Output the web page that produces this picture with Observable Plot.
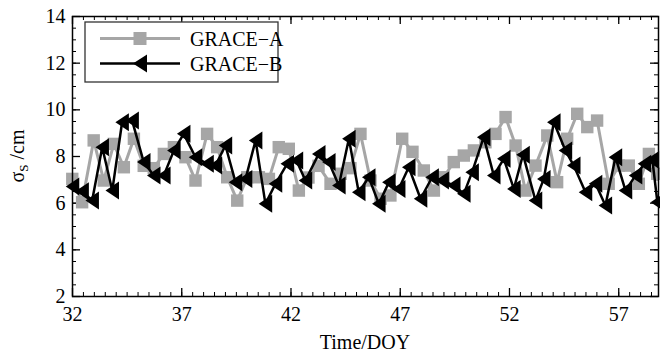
<!DOCTYPE html>
<html><head><meta charset="utf-8">
<script src="https://cdn.jsdelivr.net/npm/d3@7"></script>
<script src="https://cdn.jsdelivr.net/npm/@observablehq/plot@0.6"></script>
<style>body{margin:0;background:#fff;} svg{display:block;}</style>
</head><body><div id="chart"></div>
<script>
const seriesNames = ["GRACE\u2212A", "GRACE\u2212B"];
const xTitle = "Time/DOY";
const xMajorTicks = [32, 37, 42, 47, 52, 57];
const yMajorTicks = [2, 4, 6, 8, 10, 12, 14];

const doyA = [31.99,32.44,32.97,33.43,33.89,34.35,34.81,35.26,35.72,36.18,36.64,37.17,37.63,38.16,38.62,39.08,39.54,40.0,40.53,40.99,41.44,41.9,42.36,42.8,43.26,43.81,44.27,44.72,45.18,45.64,46.1,46.55,47.09,47.56,48.08,48.54,48.99,49.45,49.91,50.37,50.9,51.36,51.82,52.28,52.73,53.19,53.73,54.18,54.64,55.1,55.56,56.01,56.54,57.0,57.46,57.92,58.38,58.76];
const valA = [7.04,6.04,8.69,6.97,8.54,7.54,8.76,7.6,7.5,8.11,8.4,7.97,6.97,8.97,8.4,7.11,6.11,7.11,7.11,7.04,8.4,8.33,6.54,7.1,7.6,6.83,7.26,7.5,8.97,6.97,6.19,6.33,8.76,8.2,7.4,6.54,7.11,7.76,8.04,8.26,8.61,8.97,9.69,8.47,6.54,7.61,8.9,6.9,8.76,9.83,9.26,9.54,6.83,7.61,7.61,6.83,8.11,7.26];

const doyB = [32.0,32.44,32.9,33.36,33.82,34.27,34.73,35.26,35.72,36.18,36.64,37.09,37.63,38.16,38.54,39.0,39.46,39.92,40.38,40.83,41.29,41.83,42.25,42.66,43.27,43.73,44.19,44.65,45.1,45.56,46.02,46.48,46.93,47.39,47.93,48.46,48.92,49.45,49.91,50.29,50.82,51.28,51.74,52.2,52.62,53.19,53.57,54.03,54.56,54.94,55.48,55.94,56.39,56.85,57.31,57.77,58.18,58.54,58.77];
const valB = [6.71,6.51,6.11,8.4,6.54,9.47,9.54,7.76,7.19,7.19,8.26,8.97,7.97,7.69,7.61,8.47,6.9,7.04,8.69,5.97,6.83,7.69,7.83,6.97,8.11,7.76,6.76,8.76,6.47,7.11,5.97,6.9,6.61,7.54,6.19,7.11,6.97,6.76,6.4,7.33,8.83,7.19,7.9,6.61,8.08,6.11,7.04,9.47,8.26,7.61,6.47,6.83,5.9,7.97,6.54,7.19,7.69,7.85,6.04];

const A = doyA.map((d, i) => ({doy: d, v: valA[i]}));
const B = doyB.map((d, i) => ({doy: d, v: valB[i]}));
const xMinor = d3.range(32, 59, 0.5);
const yMinor = d3.range(2, 14.01, 0.5);

const W = 660, H = 358, mL = 72, mR = 2, mT = 16, mB = 62;
const fw = W - mL - mR, fh = H - mT - mB;
const grayC = "#a6a6a6";
const ff = "'Liberation Serif', 'Times New Roman', serif";

const leftTriangle = {draw(ctx, size) {
  const r = Math.sqrt(size / Math.PI);
  ctx.moveTo(-0.75 * r, 0); ctx.lineTo(0.75 * r, -r); ctx.lineTo(0.75 * r, r); ctx.closePath();
}};

const chart = Plot.plot({
  width: W, height: H,
  marginLeft: mL, marginRight: mR, marginTop: mT, marginBottom: mB,
  style: {fontFamily: ff, fontSize: "20px", color: "black", background: "white"},
  x: {domain: [32, 58.82]},
  y: {domain: [2, 14]},
  marks: [
    Plot.axisX({ticks: xMajorTicks, tickSize: 0, tickPadding: 10, fontSize: 20, fontFamily: ff, label: null}),
    Plot.axisY({ticks: yMajorTicks, tickSize: 0, tickPadding: 7, fontSize: 20, fontFamily: ff, label: null}),
    // inward ticks on all four sides
    Plot.tickX(xMinor, {x: d => d, insetTop: fh - 4, stroke: "black"}),
    Plot.tickX(xMinor, {x: d => d, insetBottom: fh - 4, stroke: "black"}),
    Plot.tickX(xMajorTicks, {x: d => d, insetTop: fh - 8, stroke: "black", strokeWidth: 1.3}),
    Plot.tickX(xMajorTicks, {x: d => d, insetBottom: fh - 8, stroke: "black", strokeWidth: 1.3}),
    Plot.tickY(yMinor, {y: d => d, insetRight: fw - 4, stroke: "black"}),
    Plot.tickY(yMinor, {y: d => d, insetLeft: fw - 4, stroke: "black"}),
    Plot.tickY(yMajorTicks, {y: d => d, insetRight: fw - 8, stroke: "black", strokeWidth: 1.3}),
    Plot.tickY(yMajorTicks, {y: d => d, insetLeft: fw - 8, stroke: "black", strokeWidth: 1.3}),
    Plot.line(A, {x: "doy", y: "v", stroke: grayC, strokeWidth: 3}),
    Plot.dot(A, {x: "doy", y: "v", symbol: "square", r: 7, fill: grayC, stroke: "none"}),
    Plot.line(B, {x: "doy", y: "v", stroke: "black", strokeWidth: 2.5}),
    Plot.dot(B, {x: "doy", y: "v", symbol: leftTriangle, r: 9, fill: "black", stroke: "none"}),
    Plot.frame({stroke: "black", strokeWidth: 1.5})
  ]
});
document.getElementById("chart").appendChild(chart);

const svg = d3.select(chart);
// axis titles
svg.append("text").attr("x", mL + fw / 2).attr("y", 349).attr("text-anchor", "middle")
  .attr("font-family", ff).attr("font-size", 20).attr("fill", "black").text(xTitle);
const yl = svg.append("text").attr("transform", `translate(24,${mT + fh / 2}) rotate(-90)`)
  .attr("text-anchor", "middle").attr("font-family", ff).attr("font-size", 20).attr("fill", "black");
yl.append("tspan").text("\u03c3");
yl.append("tspan").attr("font-size", 13).attr("dy", 4).text("S");
yl.append("tspan").attr("dy", -4).text(" /cm");

// legend
const lg = svg.append("g").attr("transform", "translate(85,22)");
lg.append("rect").attr("width", 193).attr("height", 60).attr("fill", "white").attr("stroke", "#333").attr("stroke-width", 1.3);
const rows = [
  {name: seriesNames[0], y: 16.5, color: grayC, w: 3},
  {name: seriesNames[1], y: 41.5, color: "black", w: 2.5}
];
rows.forEach((r, i) => {
  lg.append("line").attr("x1", 15).attr("x2", 95).attr("y1", r.y).attr("y2", r.y).attr("stroke", r.color).attr("stroke-width", r.w);
  if (i === 0) {
    lg.append("rect").attr("x", 55 - 6.5).attr("y", r.y - 6.5).attr("width", 13).attr("height", 13).attr("fill", grayC);
  } else {
    lg.append("path").attr("d", `M${55 - 7},${r.y} L${55 + 7},${r.y - 9} L${55 + 7},${r.y + 9} Z`).attr("fill", "black");
  }
  lg.append("text").attr("x", 105).attr("y", r.y + 7).attr("text-anchor", "start").attr("font-family", ff).attr("font-size", 20).attr("fill", "black").text(r.name);
});
</script>
</body></html>
